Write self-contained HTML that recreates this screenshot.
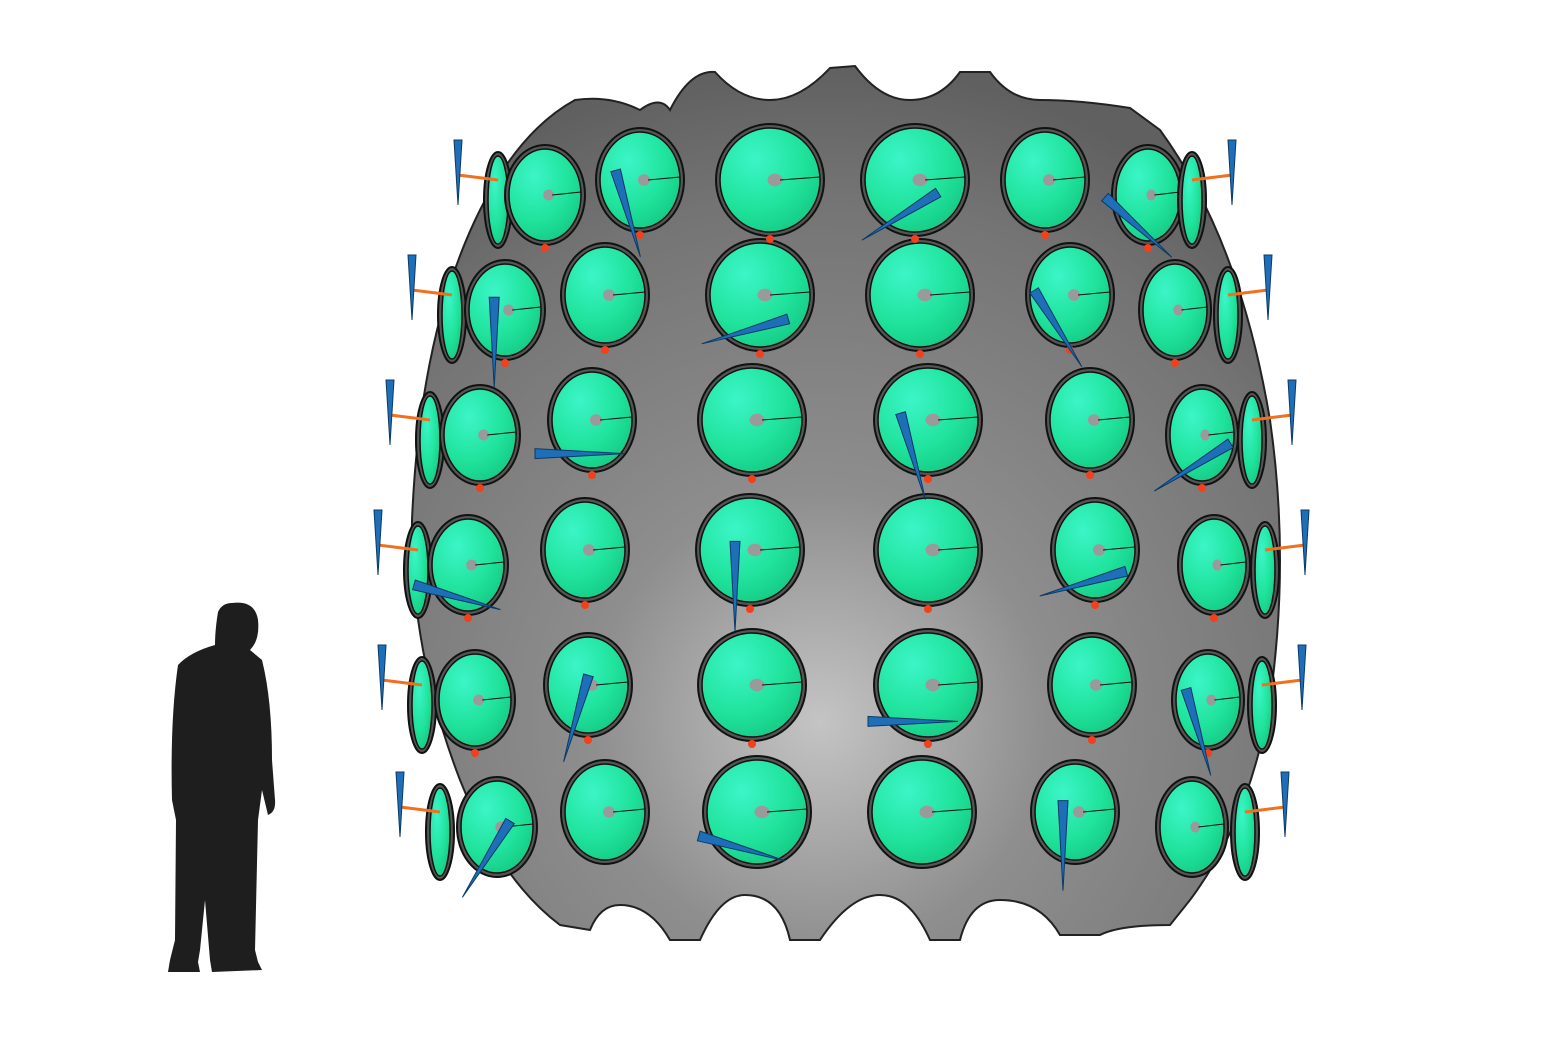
<!DOCTYPE html>
<html><head><meta charset="utf-8"><style>
html,body{margin:0;padding:0;background:#fff;}
svg{display:block;}
</style></head><body>
<svg id="scene" width="1541" height="1041" viewBox="0 0 1541 1041" xmlns="http://www.w3.org/2000/svg">
<defs>
<radialGradient id="shell" cx="0.47" cy="0.75" r="0.75">
<stop offset="0" stop-color="#c4c4c4"/><stop offset="0.35" stop-color="#8e8e8e"/><stop offset="0.8" stop-color="#747474"/><stop offset="1" stop-color="#606060"/>
</radialGradient>
<radialGradient id="disc" cx="0.35" cy="0.3" r="0.8">
<stop offset="0" stop-color="#3cf5c8"/><stop offset="0.6" stop-color="#20e39c"/><stop offset="1" stop-color="#14c883"/>
</radialGradient>
</defs>
<rect width="1541" height="1041" fill="#fff"/>
<path fill="url(#shell)" stroke="#222" stroke-width="2"
d="M575,100 Q610,95 640,110 Q660,95 670,110 Q690,70 715,72 Q740,100 770,100 Q800,100 830,68 L855,66 Q880,100 910,100 Q940,100 960,72 L990,72 Q1010,100 1040,100 Q1080,100 1130,108 L1160,130 Q1240,240 1270,420 Q1290,560 1270,700 Q1250,820 1190,900 L1170,925 Q1120,925 1100,935 L1060,935 Q1040,900 1000,900 Q970,900 960,940 L930,940 Q910,895 880,895 Q850,895 820,940 L790,940 Q780,895 745,895 Q720,895 700,940 L670,940 Q650,905 620,905 Q600,905 590,930 L560,925 Q500,880 460,780 Q410,650 412,520 Q420,330 480,210 Q520,130 575,100 Z"/>
<g id="discs"></g>
<g id="links"></g>
<g id="spikes"></g>
<path fill="#1e1e1e"
d="M232,603 Q255,600 258,620 Q260,640 250,650 L262,660 Q272,700 272,760 L275,800 Q276,812 268,815 L262,790 L258,820 L255,950 L258,962 L262,970 L212,972 L210,960 L205,900 L200,950 L198,962 L200,972 L168,972 L170,960 L175,940 L176,820 L172,800 Q170,720 178,665 Q190,652 215,645 Q215,630 218,612 Q222,603 232,603 Z"/>
</svg>
<script>
// disc columns: centre x per row, row y, radii
const rowsY=[180,295,420,550,685,812];
const colX=[
 [498,452,430,418,422,440],
 [545,505,480,468,475,497],
 [640,605,592,585,588,605],
 [770,760,752,750,752,757],
 [915,920,928,928,928,922],
 [1045,1070,1090,1095,1092,1075],
 [1148,1175,1202,1214,1208,1192],
 [1192,1228,1252,1265,1262,1245]
];
const colRx=[10,36,40,50,50,40,32,10];
const colRy=[44,46,48,52,52,48,46,44];
const NS='http://www.w3.org/2000/svg';
const gD=document.getElementById('discs'),gL=document.getElementById('links'),gS=document.getElementById('spikes');
function mk(t,a,p){const e=document.createElementNS(NS,t);for(const k in a)e.setAttribute(k,a[k]);p.appendChild(e);return e;}
colX.forEach((xs,c)=>{
 xs.forEach((x,r)=>{
  const y=rowsY[r]+(c===0||c===7?20:(c===1||c===6?15:0));
  const rx=colRx[c],ry=colRy[c];
  const g=mk('g',{},gD);
  
  
  mk('ellipse',{cx:x,cy:y,rx:rx+4,ry:ry+4,fill:'#555',stroke:'#111','stroke-width':2},g);
  mk('ellipse',{cx:x,cy:y,rx:rx,ry:ry,fill:'url(#disc)',stroke:'#111','stroke-width':1.5},g);
  if(rx>20){
   mk('ellipse',{cx:x+rx*0.1,cy:y,rx:rx*0.15,ry:ry*0.12,fill:'#9a9a9a'},g);
   mk('line',{x1:x+rx*0.2,y1:y,x2:x+rx,y2:y-3,stroke:'#111','stroke-width':1},g);
  }
  if(r<xs.length-1 && c>0 && c<7){
   const l=mk('circle',{cx:x,cy:y+ry+7,r:4,fill:'#f2401a'},gL);
   
   
  }
  if(c===0||c===7){
   const sx=c===0?x-40:x+40;
   const o=mk('line',{x1:x,y1:y-20,x2:sx,y2:y-25,stroke:'#f07020','stroke-width':3},gL);
   
   
   const s=mk('polygon',{points:`${sx-4},${y-60} ${sx+4},${y-60} ${sx},${y+5}`,fill:'#1f6fb8',stroke:'#0b3a66','stroke-width':1},gS);
   
   
  } else if((r+c)%2===0){
   const ang=(c*37+r*53)%180*Math.PI/180;
   const L=45,dx=Math.cos(ang)*L,dy=Math.sin(ang)*L;
   const x0=x-rx*0.3,y0=y+ry*0.7;
   const px=-Math.sin(ang)*5,py=Math.cos(ang)*5;
   const s=mk('polygon',{points:`${x0-dx+px},${y0-dy+py} ${x0-dx-px},${y0-dy-py} ${x0+dx},${y0+dy}`,fill:'#1f6fb8',stroke:'#0b3a66','stroke-width':1},gS);
   
   
  }
 });
});
</script>
</body></html>
